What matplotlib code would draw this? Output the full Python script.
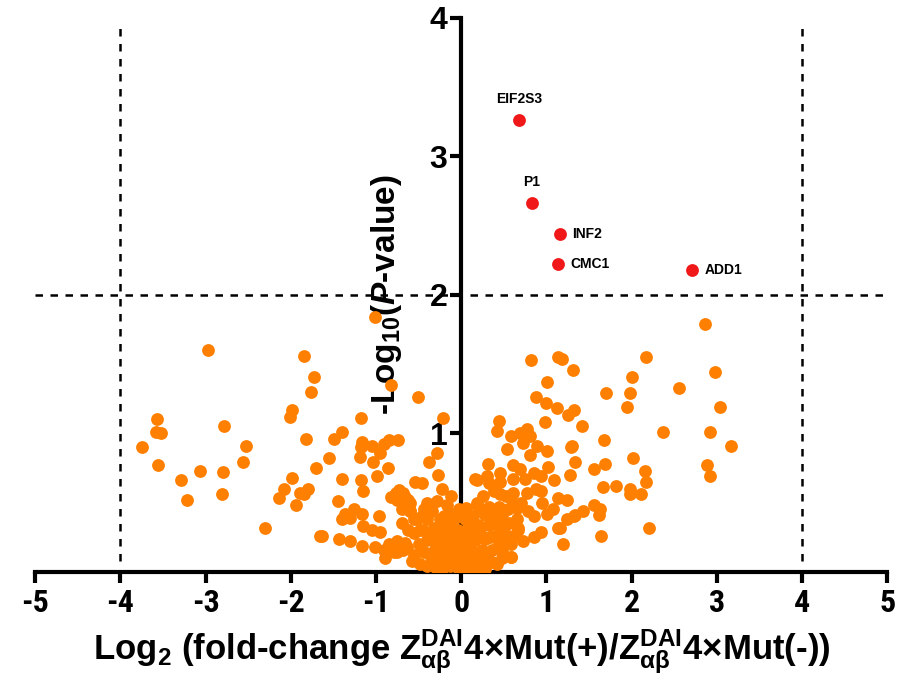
import numpy as np
import matplotlib
matplotlib.use('Agg')
import matplotlib.pyplot as plt

# significant hits (red)
sig_names = ['EIF2S3', 'P1', 'INF2', 'CMC1', 'ADD1']
sig_x = [0.68, 0.83, 1.16, 1.13, 2.71]
sig_y = [3.26, 2.66, 2.44, 2.22, 2.18]

# everything else (orange)
orange_x = [
  -2.97, -1.84, -1.73, -1.76, -3.57, -1.98, -2.01, -3.58, -3.52, -2.78, -3.74, -2.52, -1.82,
  -3.56, -2.56, -3.07, -2.80, -3.29, -1.71, -1.99, -2.08, -3.22, -2.81, -2.14, -1.89, -1.80,
  -1.84, -1.94, -2.30, -1.66,
  -1.01, -0.83, -0.51, -0.21, -1.18, -1.40, -1.49, -1.17, -1.18, -1.05, -0.95, -0.85, -0.74,
  -0.91, -1.19, -1.55, -0.29, -0.38, -1.04, -0.86, -0.99, -0.27, -1.40, -1.18, -0.54, -0.46,
  -1.15, -0.83, -0.73, -0.66, -1.45, -1.36, -1.26, -1.17, -1.40, -1.31, -0.96, -1.15, -1.05,
  -0.95, -1.63, -1.44, -1.30, -1.17, -1.01, -0.91, -0.75, -0.75, -0.64, -0.60, -0.56, -0.62,
  0.82, 1.14, 1.18, 1.31, 1.01, 0.88, 0.99, 1.12, 1.32, 1.25, 1.42, 0.98, 0.44, 0.42, 0.58,
  0.69, 0.77, 0.81, 0.54, 0.72, 0.89, 0.81, 1.01, 1.30, 1.33, 0.31, 0.61, 0.69, 1.02, 0.85,
  0.46, 0.18, 0.32, 0.46, 0.61, 0.75, 0.93, 1.09, 1.28, 0.46, 0.61, 0.77, 0.93, 0.61, 1.14,
  1.24, 0.65, 0.85, 1.01, 1.08, 1.24, 1.34, 1.43, 0.94, 1.14, 0.85, 1.19, 0.58, 0.67, 0.46,
  0.18,
  2.86, 2.17, 2.00, 2.98, 2.56, 1.70, 1.98, 1.95, 3.04, 2.37, 2.92, 1.67, 1.29, 3.17, 2.01,
  1.69, 1.56, 2.16, 2.88, 2.92, 2.17, 1.66, 1.81, 1.98, 1.98, 2.11, 1.56, 1.63, 1.62, 1.32,
  2.20, 1.64, 1.16,
  -0.77, -0.68, -0.75, -0.60, -0.40, -0.29, -0.17, -0.60, -0.44, -0.11, -0.52, -0.40, -0.25,
  -0.09, -0.48, -0.32, -0.17, -0.07, -0.75, -0.66, -0.79, -0.68, -0.56, -0.40, -0.29, -0.17,
  -0.44, -0.32, -0.21, -0.09, -0.32, -0.21, -0.09, -0.01, -0.13, -0.01, -0.36, -0.25, -0.15,
  0.16, 0.30, 0.18, 0.32, 0.44, 0.14, 0.28, 0.48, 0.09, 0.20, 0.32, 0.44, 0.56, 0.67, 0.05,
  0.16, 0.28, 0.40, 0.52, 0.61, 0.01, 0.13, 0.24, 0.36, 0.48, 0.58, 0.01, 0.13, 0.24, 0.36,
  0.48, -0.03, 0.09, 0.20, -0.07, -0.07,
  # packed core around the origin
  -0.45, -0.38, -0.30, -0.24, -0.20, -0.14, -0.12, -0.05, -0.05, -0.18, -0.26, -0.36, -0.50,
  -0.55, -0.62, -0.70, -0.58, -0.48, -0.40, -0.30, -0.22, -0.10, -0.04, -0.03, -0.12, -0.22,
  -0.34, -0.46, -0.85, -0.90, -0.70,
  0.04, 0.06, 0.10, 0.08, 0.18, 0.22, 0.26, 0.30, 0.34, 0.38, 0.42, 0.44, 0.50, 0.55, 0.58,
  0.65, 0.70, 0.72, 0.78, 0.52, 0.38, 0.25, 0.12, 0.02, 0.03, 0.15, 0.28, 0.40, 0.88, 0.95,
]
orange_y = [
  1.60, 1.56, 1.41, 1.30, 1.10, 1.17, 1.12, 1.01, 1.00, 1.05, 0.90, 0.91, 0.96,
  0.77, 0.79, 0.73, 0.72, 0.66, 0.75, 0.68, 0.60, 0.52, 0.56, 0.53, 0.57, 0.60,
  0.56, 0.48, 0.32, 0.26,
  1.84, 1.35, 1.26, 1.11, 1.11, 1.01, 0.96, 0.94, 0.90, 0.91, 0.86, 0.95, 0.95,
  0.92, 0.83, 0.82, 0.86, 0.79, 0.79, 0.75, 0.69, 0.70, 0.67, 0.66, 0.65, 0.64,
  0.58, 0.54, 0.59, 0.54, 0.51, 0.42, 0.45, 0.42, 0.38, 0.39, 0.40, 0.33, 0.30,
  0.29, 0.26, 0.24, 0.22, 0.19, 0.18, 0.16, 0.21, 0.14, 0.18, 0.44, 0.38, 0.52,
  1.53, 1.55, 1.54, 1.46, 1.37, 1.26, 1.22, 1.18, 1.17, 1.13, 1.05, 1.08, 1.09, 1.02, 0.98,
  1.00, 1.03, 0.98, 0.89, 0.93, 0.91, 0.84, 0.87, 0.91, 0.79, 0.78, 0.77, 0.74, 0.76, 0.71,
  0.71, 0.66, 0.64, 0.65, 0.67, 0.67, 0.69, 0.66, 0.70, 0.56, 0.57, 0.57, 0.58, 0.50, 0.53,
  0.52, 0.46, 0.40, 0.42, 0.45, 0.38, 0.41, 0.44, 0.29, 0.32, 0.25, 0.20, 0.11, 0.30, 0.30,
  0.50,
  1.79, 1.55, 1.41, 1.44, 1.33, 1.29, 1.29, 1.19, 1.19, 1.01, 1.01, 0.95, 0.90, 0.91, 0.82,
  0.78, 0.74, 0.73, 0.77, 0.69, 0.65, 0.61, 0.62, 0.60, 0.56, 0.56, 0.48, 0.45, 0.41, 0.40,
  0.32, 0.26, 0.32,
  0.57, 0.57, 0.52, 0.50, 0.50, 0.51, 0.48, 0.44, 0.45, 0.42, 0.38, 0.38, 0.38,
  0.38, 0.30, 0.32, 0.30, 0.29, 0.22, 0.21, 0.14, 0.16, 0.12, 0.23, 0.22, 0.21,
  0.14, 0.15, 0.14, 0.16, 0.09, 0.07, 0.09, 0.10, 0.04, 0.01, 0.27, 0.27, 0.26,
  0.67, 0.69, 0.48, 0.47, 0.47, 0.40, 0.41, 0.41, 0.33, 0.34, 0.34, 0.33, 0.35, 0.32, 0.26,
  0.23, 0.24, 0.26, 0.24, 0.26, 0.16, 0.15, 0.16, 0.16, 0.15, 0.11, 0.06, 0.06, 0.05, 0.07,
  0.10, 0.01, 0.01, 0.01, 0.40, 0.26,
  0.30, 0.25, 0.18, 0.30, 0.40, 0.34, 0.20, 0.20, 0.13, 0.10, 0.12, 0.11, 0.20,
  0.28, 0.30, 0.35, 0.08, 0.06, 0.04, 0.03, 0.02, 0.05, 0.30, 0.45, 0.55, 0.60,
  0.44, 0.40, 0.20, 0.10, 0.45,
  0.38, 0.46, 0.20, 0.10, 0.12, 0.28, 0.44, 0.10, 0.25, 0.40, 0.06, 0.20, 0.32, 0.45, 0.20,
  0.38, 0.50, 0.22, 0.44, 0.55, 0.58, 0.55, 0.28, 0.22, 0.05, 0.03, 0.02, 0.60, 0.60, 0.50,
]

fc_cut = 4
p_cut = 2

plt.rcParams['font.family'] = ['Liberation Sans', 'DejaVu Sans']
plt.rcParams['font.weight'] = 'bold'
plt.rcParams['axes.unicode_minus'] = False
plt.rcParams['mathtext.fontset'] = 'custom'
plt.rcParams['mathtext.rm'] = 'Liberation Sans:bold'
plt.rcParams['mathtext.sf'] = 'Liberation Sans:bold'
plt.rcParams['mathtext.it'] = 'Liberation Sans:italic:bold'

fig = plt.figure(figsize=(9, 6.84), dpi=100)
ax = fig.add_axes([0.039, 0.164, 0.947, 0.810])

ax.scatter(orange_x, orange_y, s=85, color='#FF8000', linewidths=0, zorder=3)
ax.scatter(sig_x, sig_y, s=85, color='#F01818', linewidths=0, zorder=4)

offsets = {'EIF2S3': (0, 10, 'center', 'bottom'), 'P1': (0, 10, 'center', 'bottom'),
           'INF2': (9, 0, 'left', 'center'), 'CMC1': (9, 0, 'left', 'center'),
           'ADD1': (9, 0, 'left', 'center')}
for name, x, y in zip(sig_names, sig_x, sig_y):
  dx, dy, ha, va = offsets[name]
  ax.annotate(name, (x, y), xytext=(dx, dy), textcoords='offset points',
              ha=ha, va=va, fontsize=10, fontweight='bold')

# cut-off lines
ax.plot([-fc_cut, -fc_cut], [0.08, 3.96], ls=(0, (3, 3)), color='black', lw=1.8, zorder=2)
ax.plot([fc_cut, fc_cut], [0.08, 3.96], ls=(0, (3, 3)), color='black', lw=1.8, zorder=2)
ax.plot([-5, 5], [p_cut, p_cut], ls=(0, (3, 3)), color='black', lw=1.8, zorder=2)

ax.set_xlim(-5, 5)
ax.set_ylim(0, 4)
ax.spines['left'].set_position(('data', 0))
ax.spines['top'].set_visible(False)
ax.spines['right'].set_visible(False)
ax.spines['left'].set_linewidth(3)
ax.spines['bottom'].set_linewidth(3)

ax.set_xticks(range(-5, 6))
ax.set_yticks([1, 2, 3, 4])
ax.tick_params(axis='both', width=3, length=8, direction='out')
ax.tick_params(axis='y', pad=2)
for lab in ax.get_xticklabels():
  lab.set_fontfamily(['Roboto Condensed', 'Liberation Sans'])
  lab.set_fontsize(23)
  lab.set_fontweight('bold')
for lab in ax.get_yticklabels():
  lab.set_fontsize(23)
  lab.set_fontweight('bold')

ax.set_xlabel(r'Log$_2$ (fold-change Z$_{\mathrm{\alpha\beta}}^{\mathrm{DAI}}$4$\times$Mut(+)/Z$_{\mathrm{\alpha\beta}}^{\mathrm{DAI}}$4$\times$Mut(-))',
              fontsize=25, fontweight='bold', labelpad=7)
ax.set_ylabel(r'-Log$_{\mathsf{10}}$($P$-value)', fontsize=24, fontweight='bold')
ax.yaxis.set_label_coords(0.433, 0.5)

fig.savefig('out.png', dpi=100)
